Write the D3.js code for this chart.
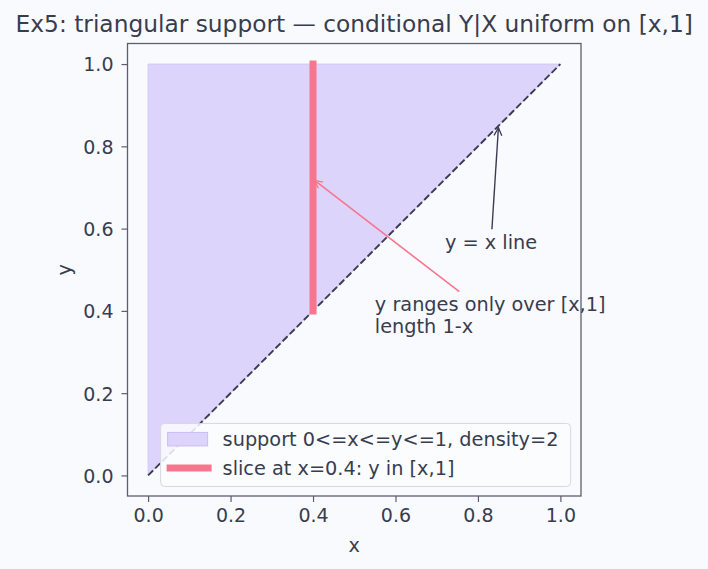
<!DOCTYPE html>
<html>
<head>
<meta charset="utf-8">
<script src="https://cdn.jsdelivr.net/npm/d3@7"></script>
<style>
	body { margin: 0; background: #f9fafd; }
	svg { display: block; font-family: "DejaVu Sans", sans-serif; }
</style>
</head>
<body>
<div id="chart"></div>
<script>
// data
var supportX = [0, 0, 1],
	supportY = [0, 1, 1];
var diagX = [0, 1],
	diagY = [0, 1];
var sliceX = [0.4, 0.4],
	sliceY = [0.4, 1.0];
var xTicks = [0.0, 0.2, 0.4, 0.6, 0.8, 1.0],
	yTicks = [0.0, 0.2, 0.4, 0.6, 0.8, 1.0];
var noteText = [["y = x line"], ["y ranges only over [x,1]", "length 1-x"]],
	noteAt = [[0.72, 0.55], [0.55, 0.40]],
	noteTarget = [[0.85, 0.85], [0.4, 0.72]];
var legendLabels = ["support 0<=x<=y<=1, density=2", "slice at x=0.4: y in [x,1]"];

var W = 708, H = 569;
var margins = {top: 43.5, bottom: 73, left: 127.5, right: 127};
var width = W - margins.left - margins.right,
	height = H - margins.top - margins.bottom;

var ink = "#383d4e", spine = "#5b5e70", red = "#f7768e", dark = "#3b3a55";
var fs = "19.3px";

var x = d3.scaleLinear().domain([-0.05, 1.05]).range([0, width]);
var y = d3.scaleLinear().domain([-0.05, 1.05]).range([height, 0]);

var svg = d3.select("#chart").append("svg")
	.attr("width", W)
	.attr("height", H);

svg.append("rect").attr("width", W).attr("height", H).attr("fill", "#f9fafd");

svg.append("text")
	.attr("x", margins.left + width / 2)
	.attr("y", 31.5)
	.attr("text-anchor", "middle")
	.attr("fill", ink)
	.style("font-size", "23.3px")
	.text("Ex5: triangular support \u2014 conditional Y|X uniform on [x,1]");

var g = svg.append("g")
	.attr("transform", "translate(" + margins.left + "," + margins.top + ")");

var defs = svg.append("defs");
[["headDark", dark], ["headRed", red]].forEach(function(m) {
	defs.append("marker")
		.attr("id", m[0])
		.attr("viewBox", "-9 -5 10 10")
		.attr("refX", 0).attr("refY", 0)
		.attr("markerWidth", 10).attr("markerHeight", 10)
		.attr("markerUnits", "userSpaceOnUse")
		.attr("orient", "auto")
	.append("path")
		.attr("d", "M-7.8,-3.9L0,0L-7.8,3.9")
		.attr("fill", "none")
		.attr("stroke", m[1])
		.attr("stroke-width", 1.3);
});

// support triangle
var pts = supportX.map(function(v, i) { return [x(v), y(supportY[i])]; });
g.append("path")
	.attr("d", d3.line()(pts) + "Z")
	.attr("fill", "#ddd4fb")
	.attr("stroke", "#d2c7f8")
	.attr("stroke-width", 1);

// y = x line
g.append("path")
	.attr("d", d3.line()(diagX.map(function(v, i) { return [x(v), y(diagY[i])]; })))
	.attr("fill", "none")
	.attr("stroke", dark)
	.attr("stroke-width", 1.9)
	.attr("stroke-dasharray", "7,3");

// slice
g.append("path")
	.attr("d", d3.line()(sliceX.map(function(v, i) { return [x(v), y(sliceY[i])]; })))
	.attr("stroke", red)
	.attr("stroke-width", 7)
	.attr("stroke-linecap", "square");

// axes
var xAxis = g.append("g")
	.attr("transform", "translate(0," + height + ")")
	.call(d3.axisBottom(x).tickValues(xTicks).tickFormat(d3.format(".1f")).tickSize(6).tickPadding(7));
var yAxis = g.append("g")
	.call(d3.axisLeft(y).tickValues(yTicks).tickFormat(d3.format(".1f")).tickSize(6).tickPadding(8));
[xAxis, yAxis].forEach(function(a) {
	a.select(".domain").remove();
	a.selectAll("line").attr("stroke", spine).attr("stroke-width", 1.2);
	a.selectAll("text").attr("fill", ink).style("font-size", "19px").style("font-family", "DejaVu Sans");
});
yAxis.selectAll("text").attr("dy", "0.36em");

g.append("rect")
	.attr("width", width).attr("height", height)
	.attr("fill", "none")
	.attr("stroke", spine)
	.attr("stroke-width", 1.3);

svg.append("text")
	.attr("x", margins.left + width / 2)
	.attr("y", 551.5)
	.attr("text-anchor", "middle")
	.attr("fill", ink)
	.style("font-size", fs)
	.text("x");
svg.append("text")
	.attr("transform", "translate(71," + (margins.top + height / 2) + ") rotate(-90)")
	.attr("text-anchor", "middle")
	.attr("fill", ink)
	.style("font-size", fs)
	.text("y");

// annotations
noteText.forEach(function(lines, i) {
	var tx = x(noteAt[i][0]), ty = y(noteAt[i][1]);
	var t = g.append("text")
		.attr("fill", ink)
		.style("font-size", fs);
	lines.forEach(function(s, j) {
		t.append("tspan").attr("x", tx).attr("y", ty + j * 22).text(s);
	});
	var bb = t.node().getBBox();
	var cx = bb.x + bb.width / 2, cy = bb.y + bb.height / 2;
	var px = x(noteTarget[i][0]), py = y(noteTarget[i][1]);
	var dx = px - cx, dy = py - cy;
	// clip start to text box edge
	var s = Math.min(Math.abs(bb.width / 2 / dx), Math.abs(bb.height / 2 / dy));
	var len = Math.sqrt(dx * dx + dy * dy);
	var sx = cx + dx * s + dx / len * 2, sy = cy + dy * s + dy / len * 2;
	var ex = px - dx / len * 2, ey = py - dy / len * 2;
	g.append("line")
		.attr("x1", sx).attr("y1", sy).attr("x2", ex).attr("y2", ey)
		.attr("stroke", i == 0 ? dark : red)
		.attr("stroke-width", i == 0 ? 1.4 : 1.6)
		.attr("marker-end", "url(#" + (i == 0 ? "headDark" : "headRed") + ")");
});

// legend
var legend = g.append("g")
	.attr("transform", "translate(" + (x(0) + 12.5) + "," + (y(0) - 52) + ")");
legend.append("rect")
	.attr("width", 410).attr("height", 63)
	.attr("rx", 4)
	.attr("fill", "#fcfcfe")
	.attr("fill-opacity", 0.85)
	.attr("stroke", "#d6d8df")
	.attr("stroke-width", 1);
legend.append("rect")
	.attr("x", 7).attr("y", 9)
	.attr("width", 40).attr("height", 13.5)
	.attr("fill", "#ddd4fb")
	.attr("stroke", "#c9bdf6");
legend.append("line")
	.attr("x1", 6).attr("x2", 51)
	.attr("y1", 44.5).attr("y2", 44.5)
	.attr("stroke", red)
	.attr("stroke-width", 7);
legend.selectAll(".lbl")
	.data(legendLabels)
.enter().append("text")
	.attr("class", "lbl")
	.attr("x", 62)
	.attr("y", function(d, i) { return 22.5 + i * 29.5; })
	.attr("fill", ink)
	.style("font-size", fs)
	.text(function(d) { return d; });
</script>
</body>
</html>
